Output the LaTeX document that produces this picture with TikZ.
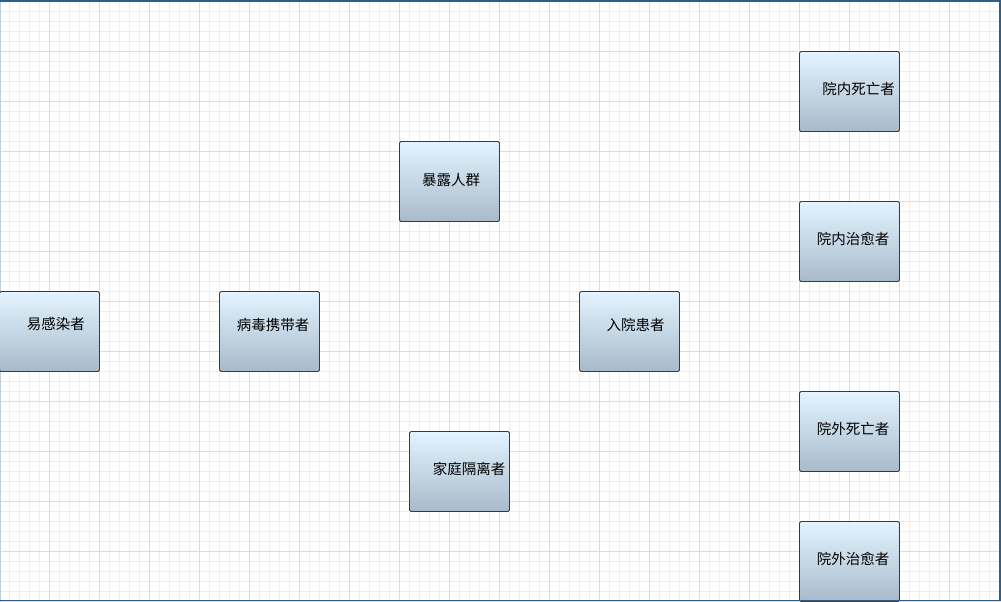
\documentclass[tikz,border=0pt]{standalone}
\usepackage{fontspec}
\newfontfamily\cjk{Noto Sans CJK SC}
\definecolor{gridminor}{HTML}{EEEEEE}
\definecolor{gridmajor}{HTML}{DCDCDC}
\definecolor{framec}{HTML}{2E5E8C}
\definecolor{boxtop}{HTML}{E3F3FF}
\definecolor{boxbot}{HTML}{A8BACA}
\definecolor{boxline}{HTML}{3A3A3A}
\begin{document}
\begin{tikzpicture}[x=1pt,y=-1pt,
  box/.style={draw=boxline,line width=0.9pt,rounded corners=1.5pt,
    top color=boxtop,bottom color=boxbot,minimum width=100pt,minimum height=80pt,inner sep=0pt},
  txt/.style={inner sep=0pt,font=\cjk\fontsize{14.5}{16}\selectfont,text=black}]
\useasboundingbox (0,0) rectangle (1001,602);
\fill[white] (0,0) rectangle (1001,602);
% grid
\foreach \x in {9.5,19.5,...,999.5} \draw[gridminor,line width=1pt] (\x,0) -- (\x,602);
\foreach \y in {1.5,11.5,...,601.5} \draw[gridminor,line width=1pt] (0,\y) -- (1001,\y);
\foreach \x in {49.5,99.5,...,999.5} \draw[gridmajor,line width=1pt] (\x,0) -- (\x,602);
\foreach \y in {1.5,51.5,...,601.5} \draw[gridmajor,line width=1pt] (0,\y) -- (1001,\y);
% frame
\draw[framec!30,line width=1pt] (0.5,0) -- (0.5,602);
\draw[framec,line width=1.5pt] (0,1) -- (999.75,1) -- (999.75,600.5) -- (0,600.5);
% boxes
\node[box] (a) at (49.5,331.5) {};
\node[txt] (at) at (56,324.5) {易感染者};
\node[box] (b) at (269.5,331.5) {};
\node[txt] (bt) at (273,324.5) {病毒携带者};
\node[box] (c) at (449.5,181.5) {};
\node[txt] (ct) at (451,179.5) {暴露人群};
\node[box] (d) at (459.5,471.5) {};
\node[txt] (dt) at (469,469) {家庭隔离者};
\node[box] (e) at (629.5,331.5) {};
\node[txt] (et) at (635.5,324.5) {入院患者};
\node[box] (f) at (849.5,91.5) {};
\node[txt] (ft) at (858.5,89) {院内死亡者};
\node[box] (g) at (849.5,241.5) {};
\node[txt] (gt) at (853,238.5) {院内治愈者};
\node[box] (h) at (849.5,431.5) {};
\node[txt] (ht) at (853,428.5) {院外死亡者};
\node[box] (i) at (849.5,561.5) {};
\node[txt] (it) at (853,559) {院外治愈者};
% frame bottom over box
\draw[framec,line width=1.5pt] (0,600.5) -- (999.75,600.5);
\end{tikzpicture}
\end{document}
